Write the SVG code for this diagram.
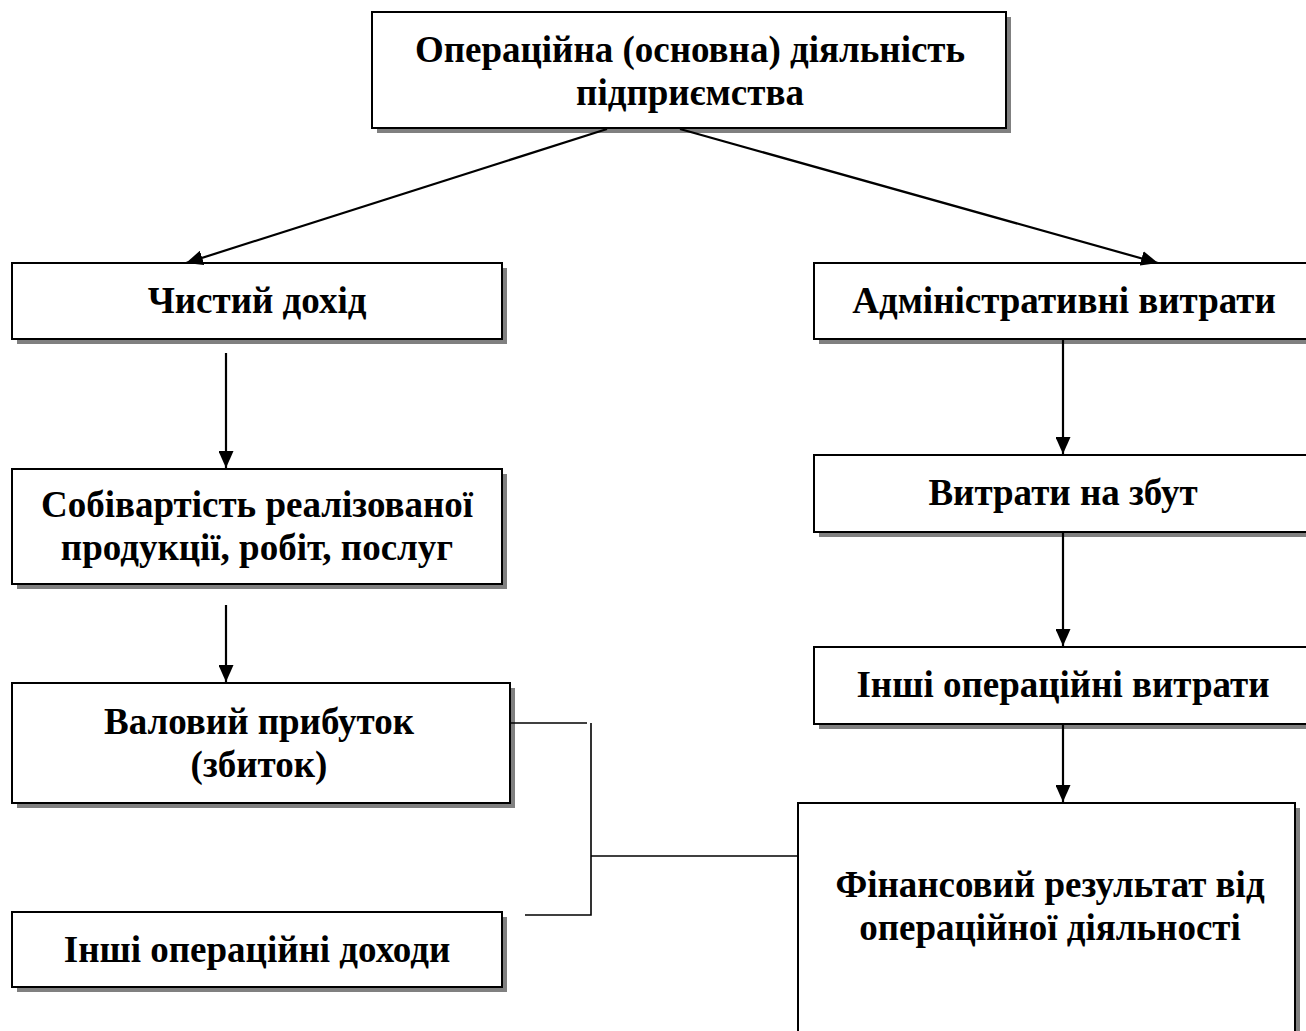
<svg xmlns="http://www.w3.org/2000/svg" width="1306" height="1031" viewBox="0 0 1306 1031">
<defs>
<marker id="arr" markerUnits="userSpaceOnUse" markerWidth="17" markerHeight="15" refX="17" refY="7.5" orient="auto">
<path d="M0,0 L17,7.5 L0,15 z" fill="#000"/>
</marker>
<style>
.sh{fill:#808080}
.bx{fill:#fff;stroke:#000;stroke-width:2}
.t{font-family:"Liberation Serif","Times New Roman",serif;font-weight:bold;font-size:37px;fill:#000;text-anchor:middle}
.ar{stroke:#000;stroke-width:2.2;fill:none;marker-end:url(#arr)}
.ln{stroke:#000;stroke-width:1.6;fill:none}
</style>
</defs>
<rect width="1306" height="1031" fill="#fff"/>
<g id="n-top">
<rect class="sh" x="377" y="17" width="634" height="116"/>
<rect class="bx" x="372" y="12" width="634" height="116"/>
<text class="t" x="690" y="62">Операційна (основна) діяльність</text>
<text class="t" x="690" y="105">підприємства</text>
</g>
<g id="n-chystyi">
<rect class="sh" x="17" y="268" width="490" height="76"/>
<rect class="bx" x="12" y="263" width="490" height="76"/>
<text class="t" x="257" y="313">Чистий дохід</text>
</g>
<g id="n-sobivartist">
<rect class="sh" x="17" y="474" width="490" height="115"/>
<rect class="bx" x="12" y="469" width="490" height="115"/>
<text class="t" x="257" y="517">Собівартість реалізованої</text>
<text class="t" x="257" y="560">продукції, робіт, послуг</text>
</g>
<g id="n-valovyi">
<rect class="sh" x="17" y="688" width="498" height="120"/>
<rect class="bx" x="12" y="683" width="498" height="120"/>
<text class="t" x="259" y="734">Валовий прибуток</text>
<text class="t" x="259" y="777">(збиток)</text>
</g>
<g id="n-inshi-dokhody">
<rect class="sh" x="17" y="917" width="490" height="75"/>
<rect class="bx" x="12" y="912" width="490" height="75"/>
<text class="t" x="257" y="962">Інші операційні доходи</text>
</g>
<g id="n-admin">
<rect class="sh" x="819" y="268" width="500" height="76"/>
<rect class="bx" x="814" y="263" width="500" height="76"/>
<text class="t" x="1064" y="313">Адміністративні витрати</text>
</g>
<g id="n-zbut">
<rect class="sh" x="819" y="460" width="500" height="77"/>
<rect class="bx" x="814" y="455" width="500" height="77"/>
<text class="t" x="1063" y="505">Витрати на збут</text>
</g>
<g id="n-inshi-vytraty">
<rect class="sh" x="819" y="652" width="500" height="77"/>
<rect class="bx" x="814" y="647" width="500" height="77"/>
<text class="t" x="1063" y="697">Інші операційні витрати</text>
</g>
<g id="n-finrez">
<rect class="sh" x="803" y="808" width="497" height="240"/>
<rect class="bx" x="798" y="803" width="497" height="240"/>
<text class="t" x="1050" y="897">Фінансовий результат від</text>
<text class="t" x="1050" y="940">операційної діяльності</text>
</g>
<g id="connectors">
<line class="ar" x1="607" y1="129" x2="186" y2="263"/>
<line class="ar" x1="680" y1="129" x2="1158" y2="263"/>
<line class="ar" x1="226" y1="353" x2="226" y2="468"/>
<line class="ar" x1="226" y1="605" x2="226" y2="682"/>
<line class="ar" x1="1063" y1="340" x2="1063" y2="454"/>
<line class="ar" x1="1063" y1="533" x2="1063" y2="646"/>
<line class="ar" x1="1063" y1="725" x2="1063" y2="802"/>
<polyline class="ln" points="511,723 587,723"/>
<polyline class="ln" points="591,723 591,915 525,915"/>
<polyline class="ln" points="591,856 798,856"/>
</g>
</svg>
